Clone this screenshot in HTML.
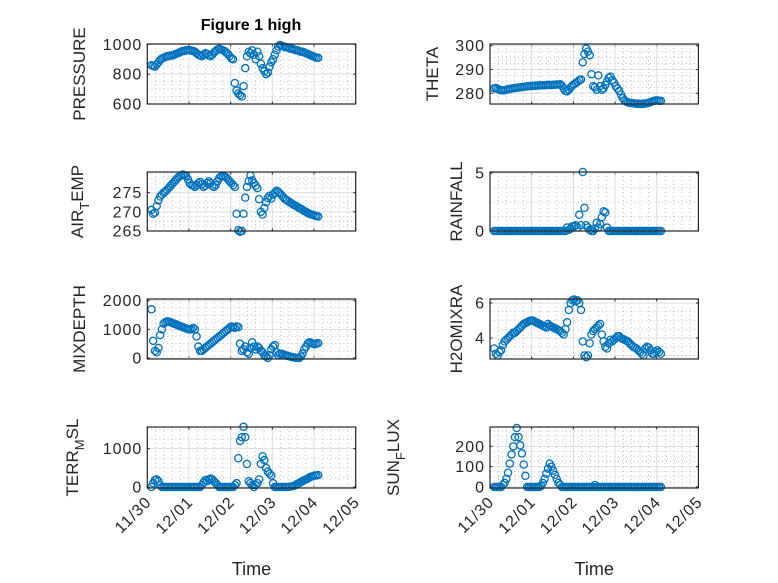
<!DOCTYPE html>
<html><head><meta charset="utf-8"><style>
html,body{margin:0;padding:0;background:#fff;}
svg{display:block;font-family:"Liberation Sans",sans-serif;}
</style></head><body>
<svg id="fig" width="778" height="583" viewBox="0 0 778 583" xmlns="http://www.w3.org/2000/svg">
<rect width="778" height="583" fill="#fff"/>
<text x="251" y="30" text-anchor="middle" font-weight="bold" font-size="16" fill="#000">Figure 1 high</text>
</svg>
<script>
const dayLabels = ["11/30","12/01","12/02","12/03","12/04","12/05"];
const startDay = 0.1;      // first sample (days after 11/30)
const stepDay = 1/24;      // hourly samples
const pressure = [860,855,850,865,880,895,905,910,915,920,920,925,925,930,935,940,945,950,955,955,960,960,960,958,
955,950,940,930,925,920,930,940,935,925,920,930,945,955,965,970,965,960,955,945,935,920,905,900,
740,690,670,660,650,720,840,920,950,940,960,930,900,950,920,870,840,820,800,810,850,880,900,930,
960,985,995,990,985,980,980,975,970,970,965,960,960,955,950,950,945,940,935,930,925,920,915,910,910];
const airTemp = [270.5,269.5,269.8,271.5,273,274,274.5,275,275.3,275.8,276.3,276.8,277.3,277.8,278.3,278.8,279.2,279.5,279.7,279.6,279.3,278.5,277.5,277,
276.8,276.5,277,277.5,277.8,277.2,276.5,276.8,277.5,278,277.5,276.8,276.5,277,278,278.8,279.2,279.3,279.2,279,278.5,278,277.5,277,
276.5,269.5,265.2,264.8,265,269.5,273.7,276.5,278,279.5,278.2,277.5,276.8,276.2,273.3,270,269.3,271,272.5,273.6,274.2,273.5,274.5,275,
275.5,275.2,274.8,274.3,273.8,273.3,273,272.7,272.4,272.1,271.8,271.6,271.3,271,270.8,270.5,270.2,270,269.7,269.5,269.3,269.2,269,268.9,268.8];
const theta = [282,282.2,281.8,281.5,281.3,281.2,281.3,281.5,281.7,281.8,282,282.1,282.2,282.3,282.4,282.5,282.6,282.7,282.8,282.9,283,283,283.1,283.1,
283.2,283.2,283.3,283.3,283.4,283.4,283.5,283.5,283.5,283.5,283.6,283.6,283.7,283.7,283.8,283.2,282,281,280.8,281.5,282.5,283.2,283.8,284.3,
284.8,285.5,285.8,293,296.5,298.8,297.5,296,288,283,282.5,281.5,287.5,283,281.5,282,283.5,285,286.5,287,285.5,284.5,283,282,
281,279.5,278,277,276.5,276.2,276,275.9,275.8,275.7,275.6,275.6,275.5,275.5,275.6,275.7,275.8,276,276.3,276.6,276.8,277,277,276.8,276.8];
const rainfall = [0,0,0,0,0,0,0,0,0,0,0,0,0,0,0,0,0,0,0,0,0,0,0,0,
0,0,0,0,0,0,0,0,0,0,0,0,0,0,0,0,0,0,0.3,0.1,0.2,0.4,0.4,0.5,
0.3,1.4,0.5,5.1,2.0,0.5,0.3,0.1,0,0,0.2,0.7,0.3,0.6,1.2,1.7,1.6,0.3,0,0,0,0,0,0,
0,0,0,0,0,0,0,0,0,0,0,0,0,0,0,0,0,0,0,0,0,0,0,0,0];
const mixDepth = [1700,600,250,200,350,800,1000,1200,1250,1280,1270,1250,1220,1200,1180,1150,1120,1100,1080,1050,1030,1010,1000,1000,
1050,1000,750,400,250,250,300,350,400,450,500,550,600,650,700,750,800,850,900,950,1000,1050,1100,1080,
1050,1100,1080,500,250,300,400,200,150,350,550,400,300,400,350,250,200,100,50,0,100,300,400,450,
200,100,150,150,120,100,80,60,50,30,20,10,0,0,50,150,300,400,500,550,520,500,480,500,520];
const h2oMixRa = [3.4,3.1,3.0,3.2,3.3,3.6,3.8,3.9,4.0,4.1,4.2,4.3,4.3,4.4,4.5,4.6,4.7,4.8,4.85,4.9,4.95,5.0,5.0,4.95,
4.9,4.85,4.8,4.75,4.7,4.65,4.6,4.8,4.7,4.65,4.6,4.55,4.5,4.45,4.4,4.3,4.2,4.5,4.9,5.6,6.0,6.15,6.2,6.1,
6.15,6.0,5.6,3.8,3.0,2.9,3.0,3.7,4.2,4.4,4.5,4.6,4.7,4.8,4.2,3.8,3.5,3.4,3.7,3.9,3.8,3.9,4.0,4.1,
4.1,4.0,3.95,3.9,3.85,3.8,3.7,3.6,3.5,3.45,3.4,3.3,3.2,3.1,3.0,3.4,3.5,3.45,3.3,3.1,3.1,3.2,3.3,3.2,3.1];
const terrMsl = [0,100,180,200,150,50,0,0,0,0,0,0,0,0,0,0,0,0,0,0,0,0,0,0,
0,0,0,0,0,50,120,180,150,200,220,200,150,100,50,0,0,0,0,0,0,0,0,0,
50,100,750,1200,1300,1570,1300,600,150,100,50,0,50,100,200,600,800,700,500,400,350,300,100,0,
0,0,0,0,0,0,0,0,10,20,30,50,80,100,130,150,180,200,220,250,270,280,300,300,310];
const sunFlux = [0,0,0,0,0,10,20,40,70,115,160,200,245,290,245,205,165,110,55,0,0,0,0,0,
0,0,0,5,20,40,65,90,115,100,80,60,40,20,10,0,0,0,0,0,0,0,0,0,
0,0,0,0,0,0,0,0,0,0,10,0,0,0,0,0,0,0,0,0,0,0,0,0,
0,0,0,0,0,0,0,0,0,0,0,0,0,0,0,0,0,0,0,0,0,0,0,0,0];

const pressureTicks=[600,800,1000], airTicks=[265,270,275], thetaTicks=[280,290,300], rainTicks=[0,5];
const mixTicks=[0,1000,2000], h2oTicks=[4,6], terrTicks=[0,1000], sunTicks=[0,100,200];

const NS="http://www.w3.org/2000/svg";
const svg=document.getElementById('fig');
function mk(tag,attrs,parent){const e=document.createElementNS(NS,tag);for(const k in attrs)e.setAttribute(k,attrs[k]);(parent||svg).appendChild(e);return e;}

const COLS=[{x0:147.3,x1:355.7},{x0:490,x1:698.4}];
const ROWS=[{y0:44,y1:104},{y0:172,y1:231},{y0:299,y1:359},{y0:427,y1:488}];

const panels=[
 {name:'pressure',c:0,r:0,data:pressure,ticks:pressureTicks,ymin:600,ymax:1002,label:['PRESSURE'],lx:85},
 {name:'theta',c:1,r:0,data:theta,ticks:thetaTicks,ymin:275.5,ymax:300.7,label:['THETA'],lx:438},
 {name:'air-temp',c:0,r:1,data:airTemp,ticks:airTicks,ymin:265,ymax:280.4,label:['AIR','T','EMP'],lx:83},
 {name:'rainfall',c:1,r:1,data:rainfall,ticks:rainTicks,ymin:0,ymax:5.1,label:['RAINFALL'],lx:462},
 {name:'mixdepth',c:0,r:2,data:mixDepth,ticks:mixTicks,ymin:-35,ymax:2060,label:['MIXDEPTH'],lx:85},
 {name:'h2omixra',c:1,r:2,data:h2oMixRa,ticks:h2oTicks,ymin:2.8,ymax:6.23,label:['H2OMIXRA'],lx:462},
 {name:'terr-msl',c:0,r:3,data:terrMsl,ticks:terrTicks,ymin:-26,ymax:1565,label:['TERR','M','SL'],lx:78},
 {name:'sun-flux',c:1,r:3,data:sunFlux,ticks:sunTicks,ymin:-5,ymax:295,label:['SUN','F','LUX'],lx:399}
];

panels.forEach(p=>{
 const C=COLS[p.c],R=ROWS[p.r];
 const xs=d=>C.x0+(d/5)*(C.x1-C.x0);
 const ys=v=>R.y1-(v-p.ymin)/(p.ymax-p.ymin)*(R.y1-R.y0);
 const g=mk('g',{});
 
 
 const step=p.ticks[1]-p.ticks[0];
 for(let d=0;d<=5.0001;d+=0.2){const x=xs(d);mk('line',{x1:x,x2:x,y1:R.y0,y2:R.y1,stroke:'#b8b8b8','stroke-width':0.8,'stroke-dasharray':'1 3'},g);}
 for(let v=p.ticks[0]-step;v<=p.ymax+step;v+=step/4){if(v<p.ymin||v>p.ymax)continue;const y=ys(v);mk('line',{x1:C.x0,x2:C.x1,y1:y,y2:y,stroke:'#b8b8b8','stroke-width':0.8,'stroke-dasharray':'1 3'},g);}
 for(let d=0;d<=5;d++){const x=xs(d);mk('line',{x1:x,x2:x,y1:R.y0,y2:R.y1,stroke:'#dedede','stroke-width':1},g);
  mk('line',{x1:x,x2:x,y1:R.y1,y2:R.y1-2.5,stroke:'#262626','stroke-width':1},g);mk('line',{x1:x,x2:x,y1:R.y0,y2:R.y0+2.5,stroke:'#262626','stroke-width':1},g);}
 p.ticks.forEach(v=>{const y=ys(v);mk('line',{x1:C.x0,x2:C.x1,y1:y,y2:y,stroke:'#dedede','stroke-width':1},g);
  mk('line',{x1:C.x0,x2:C.x0+2.5,y1:y,y2:y,stroke:'#262626'},g);mk('line',{x1:C.x1,x2:C.x1-2.5,y1:y,y2:y,stroke:'#262626'},g);
  const t=mk('text',{x:C.x0-5,y:y+5.5,'text-anchor':'end','font-size':16,fill:'#262626','letter-spacing':'1'},g);
  
  
  t.textContent=String(v);});
 p.data.forEach((v,i)=>{const c=mk('circle',{cx:xs(startDay+i*stepDay),cy:ys(v),r:3.6,fill:'none',stroke:'#0072BD','stroke-width':1.3},g);
  
  });
 mk('rect',{x:C.x0,y:R.y0,width:C.x1-C.x0,height:R.y1-R.y0,fill:'none',stroke:'#262626','stroke-width':1.2},g);
 const cy=(R.y0+R.y1)/2;
 const yl=mk('text',{x:p.lx,y:cy,transform:`rotate(-90 ${p.lx} ${cy})`,'text-anchor':'middle','font-size':17,fill:'#262626'},g);
 
 
 if(p.label.length===1){yl.textContent=p.label[0];}
 else{const a=mk('tspan',{},yl);a.textContent=p.label[0];const b=mk('tspan',{dy:6,'font-size':13},yl);b.textContent=p.label[1];const c2=mk('tspan',{dy:-6},yl);c2.textContent=p.label[2];}
 if(p.r===3){
  dayLabels.forEach((s,d)=>{const x=xs(d)+5,y=R.y1+15;const t=mk('text',{x:x,y:y,transform:`rotate(-45 ${x} ${y})`,'text-anchor':'end','font-size':16,fill:'#262626','letter-spacing':'1'},g);
   
   
   t.textContent=s;});
  const xt=mk('text',{x:(C.x0+C.x1)/2,y:575,'text-anchor':'middle','font-size':18,fill:'#262626'},g);
  
  
  xt.textContent='Time';
 }
});
</script>
</body></html>
